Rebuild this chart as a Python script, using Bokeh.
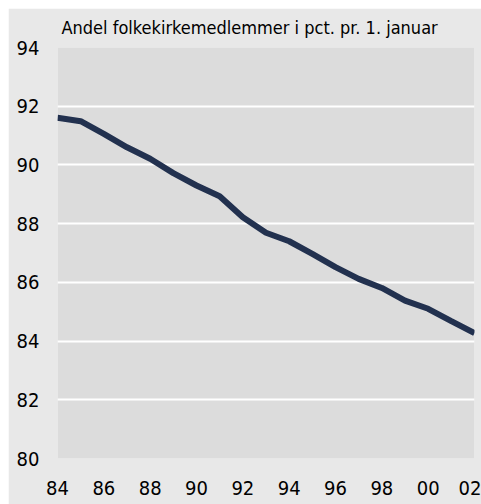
from bokeh.plotting import figure
from bokeh.models import FixedTicker, CustomJSTickFormatter, Range1d
from bokeh.embed import file_html
from bokeh.resources import INLINE

years = [1984, 1985, 1986, 1987, 1988, 1989, 1990, 1991, 1992, 1993,
         1994, 1995, 1996, 1997, 1998, 1999, 2000, 2001, 2002]
share = [91.61, 91.49, 91.06, 90.60, 90.21, 89.72, 89.30, 88.93, 88.22, 87.69,
         87.40, 86.97, 86.52, 86.12, 85.81, 85.38, 85.10, 84.68, 84.27]
x_ticks = [1984, 1986, 1988, 1990, 1992, 1994, 1996, 1998, 2000, 2002]
y_ticks = [80, 82, 84, 86, 88, 90, 92, 94]
title_text = "Andel folkekirkemedlemmer i pct. pr. 1. januar"

FONT = "DejaVu Sans Condensed"
OUTER = "#e8e8e8"
INNER = "#dcdcdc"
LINE = "#22314f"

p = figure(width=473, height=496, output_backend="svg", toolbar_location=None,
           x_range=Range1d(1984, 2002), y_range=Range1d(80, 94),
           min_border_left=49, min_border_right=7, min_border_top=39,
           min_border_bottom=46, title=title_text)
p.margin = (8, 0, 0, 8)
p.background_fill_color = INNER
p.border_fill_color = OUTER
p.outline_line_color = None

p.title.align = "left"
p.title.offset = 4
p.title.standoff = 16
p.title.vertical_align = "top"
p.title.text_font = FONT
p.title.text_font_size = "18px"
p.title.text_font_style = "normal"
p.title.text_color = "black"

p.line(years, share, line_width=6, line_color=LINE)

p.xgrid.grid_line_color = None
p.ygrid.grid_line_color = "white"
p.ygrid.grid_line_width = 2
p.ygrid.ticker = FixedTicker(ticks=y_ticks)

for ax in (p.xaxis[0], p.yaxis[0]):
    ax.axis_line_color = None
    ax.major_tick_line_color = None
    ax.minor_tick_line_color = None
    ax.major_label_text_font = FONT
    ax.major_label_text_font_size = "20px"
    ax.major_label_text_color = "black"

p.xaxis.ticker = FixedTicker(ticks=x_ticks)
p.xaxis.formatter = CustomJSTickFormatter(code="return String(tick % 100).padStart(2, '0');")
p.xaxis.major_label_standoff = 16
p.yaxis.ticker = FixedTicker(ticks=y_ticks)
p.yaxis.major_label_standoff = 12

open("out.html", "w").write(file_html(p, INLINE))
